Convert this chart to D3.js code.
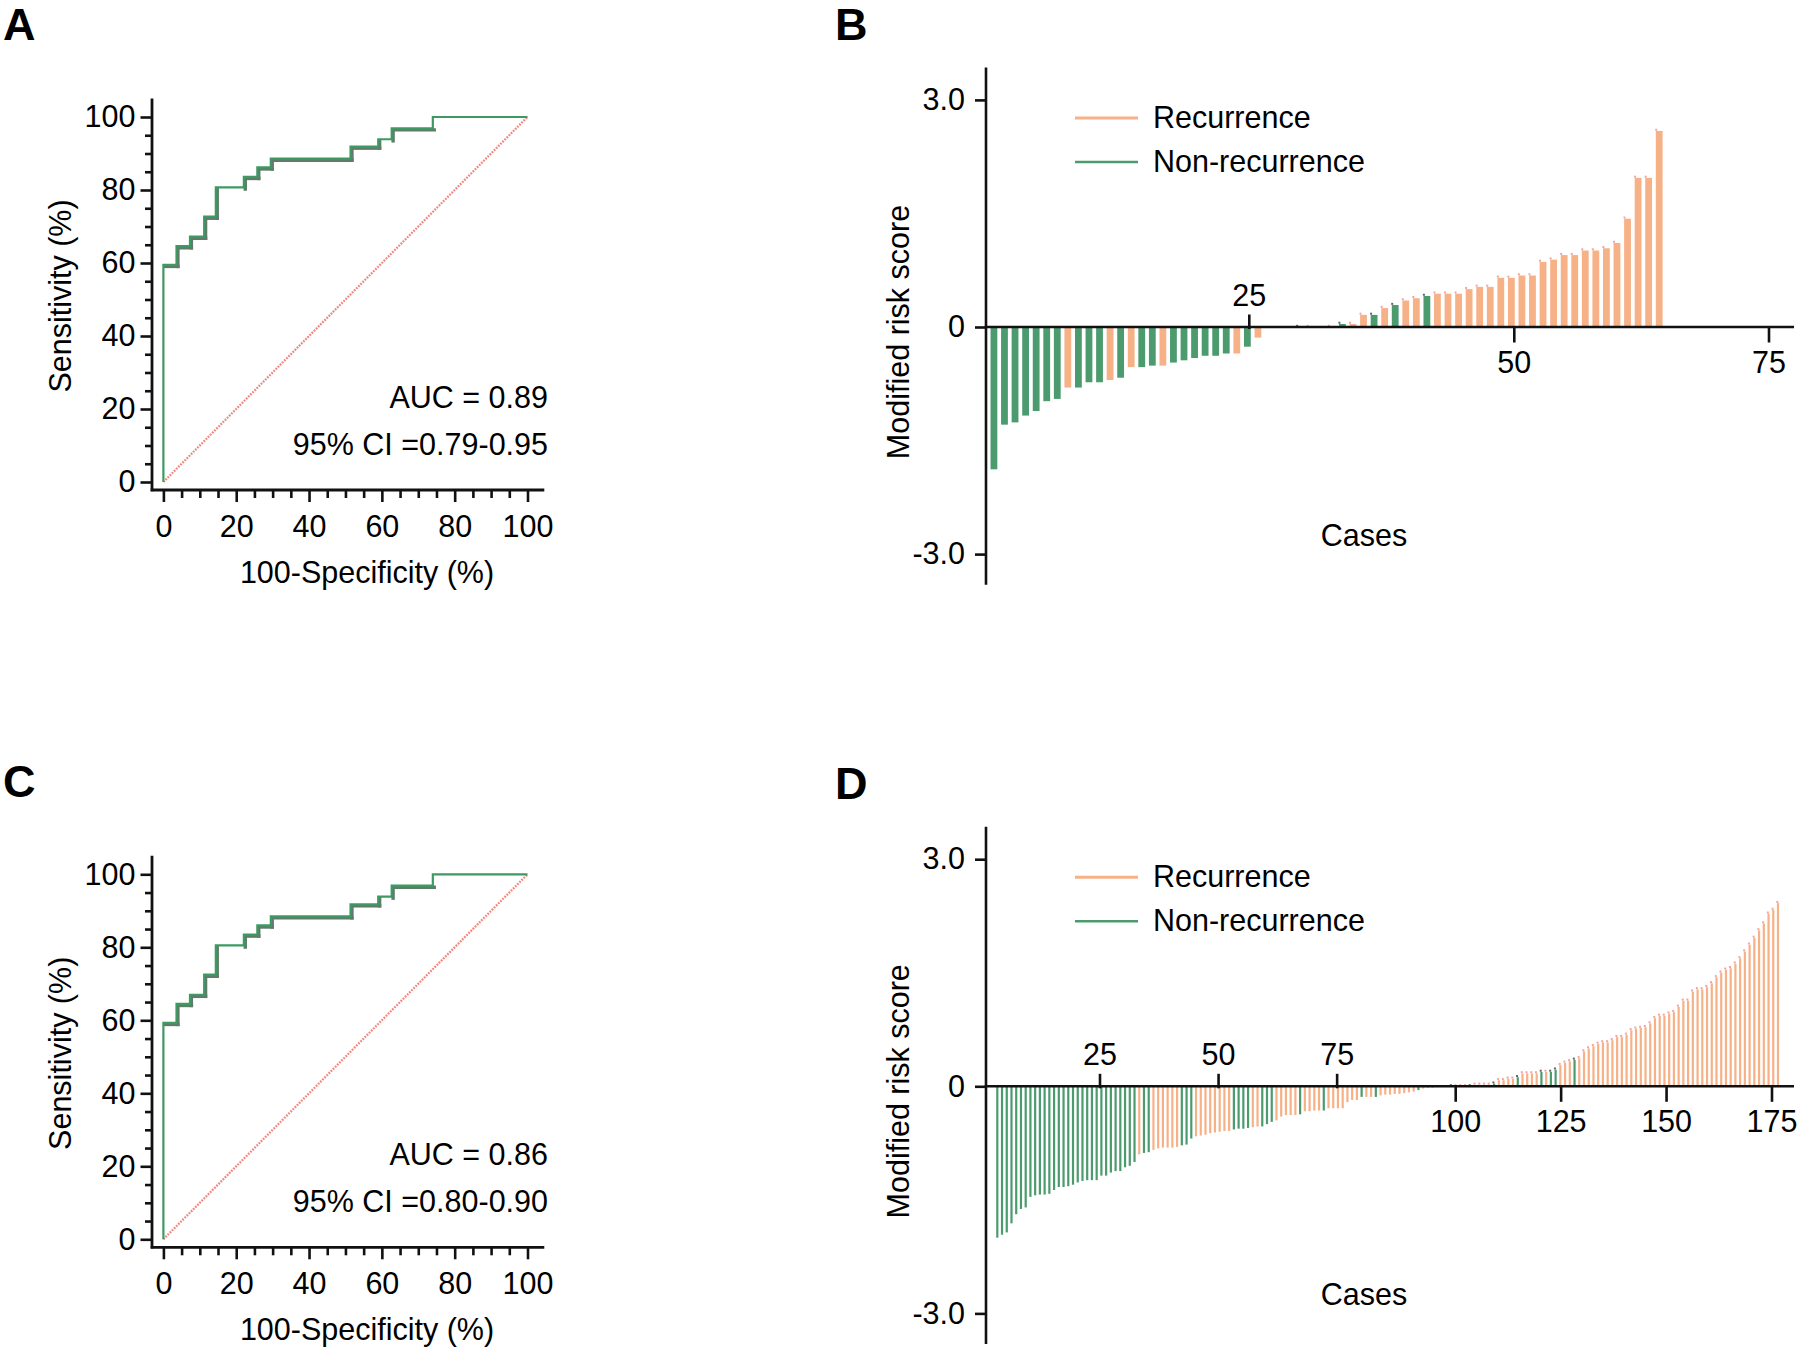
<!DOCTYPE html>
<html><head><meta charset="utf-8">
<script src="https://cdn.jsdelivr.net/npm/d3@7"></script>
<style>
body{margin:0;background:#fff}
svg{display:block;font-family:"Liberation Sans",Arial,Helvetica,sans-serif}
</style>
</head><body>
<svg id="chart" width="1800" height="1356"></svg>
<script>
// ---------------- DATA ----------------
// ROC curves (100-Specificity %, Sensitivity %), step points
const rocFprA = [0, 0, 3.6, 7.3, 11.2, 14.4, 22.1, 25.8, 29.5, 51.4, 59.0, 62.7, 74.0, 100];
const rocTprA = [0, 59.5, 64.6, 67.2, 72.7, 80.7, 83.6, 86.2, 88.6, 91.9, 93.9, 96.9, 100, 100];
const rocFprC = [0, 0, 3.6, 7.3, 11.2, 14.4, 22.1, 25.8, 29.5, 51.4, 59.0, 62.7, 74.0, 100];
const rocTprC = [0, 59.3, 64.5, 67.0, 72.5, 80.5, 83.5, 86.0, 88.5, 91.8, 93.9, 96.9, 100, 100];
const rocMajorTicks = [0, 20, 40, 60, 80, 100];
const rocMinorTicks = [5, 10, 15, 25, 30, 35, 45, 50, 55, 65, 70, 75, 85, 90, 95];
const aucA = "AUC = 0.89", ciA = "95% CI =0.79-0.95";
const aucC = "AUC = 0.86", ciC = "95% CI =0.80-0.90";

// Waterfall B: modified risk score per case (sorted), R = recurrence, N = non-recurrence
const scoresB = [-1.88,-1.29,-1.26,-1.17,-1.11,-0.98,-0.95,-0.80,-0.80,-0.73,-0.73,-0.70,-0.67,-0.53,-0.53,-0.51,-0.51,-0.47,-0.44,-0.41,-0.38,-0.38,-0.35,-0.35,-0.26,-0.14,
  null,null,null,0,0,null,0,
  0.04,0.04,0.16,0.16,0.25,0.29,0.35,0.38,0.41,0.44,0.44,0.44,0.50,0.53,0.53,0.65,0.65,0.68,0.68,0.86,0.89,0.95,0.95,1.01,1.01,1.04,1.11,1.43,1.97,1.97,2.59];
const groupsB = ("NNNNNNN"+"R"+"NNN"+"R"+"N"+"R"+"NN"+"R"+"NNNNNN"+"R"+"N"+"R"+"RRR"+"N"+"RRR"+"N"+"RR"+"N"+"R"+"N"+"RR"+"N"+"RRRRRRRRRRRRRRRRRRRRRR").split("");

// Waterfall D
const scoresD = [-2.00,-1.96,-1.93,-1.81,-1.69,-1.62,-1.60,-1.46,-1.44,-1.43,-1.43,-1.42,-1.37,-1.33,
  -1.33,-1.32,
  -1.30,-1.27,-1.25,-1.24,-1.24,-1.24,-1.18,-1.18,-1.14,-1.12,-1.12,-1.07,-1.05,
  -1.00,-0.90,-0.88,-0.87,
  -0.84,-0.82,-0.81,-0.81,-0.81,-0.80,
  -0.78,-0.77,-0.69,
  -0.66,-0.65,-0.64,-0.62,-0.61,-0.60,-0.59,-0.59,
  -0.57,-0.56,-0.56,-0.55,
  -0.54,-0.53,
  -0.53,-0.50,-0.47,
  -0.45,-0.40,-0.38,-0.38,-0.38,
  -0.37,
  -0.33,-0.33,-0.32,-0.32,
  -0.32,
  -0.29,-0.29,-0.29,-0.29,-0.21,-0.18,-0.18,
  -0.14,-0.14,-0.14,-0.14,
  -0.12,-0.11,-0.11,-0.10,-0.10,-0.09,-0.08,-0.07,
  -0.05,
  -0.03,-0.02,-0.02,-0.01,-0.01,-0.01,
  0,0,0,0,0,
  0.02,0.02,0.02,0.02,
  0.035,
  0.08,0.08,0.10,0.10,
  0.12,
  0.17,0.17,0.17,0.17,
  0.19,0.19,0.19,0.22,
  0.28,0.31,0.33,
  0.35,
  0.37,0.46,0.50,0.53,0.56,0.58,0.58,0.61,0.65,0.65,0.68,0.74,0.76,0.77,0.78,0.83,0.90,0.93,0.93,0.96,0.98,1.05,1.13,1.13,1.25,1.28,1.28,1.31,1.36,1.44,1.50,1.54,1.56,1.62,1.69,1.78,1.87,1.96,2.06,2.15,2.28,2.33,2.42];
const groupsD = ("N".repeat(30)+"R"+"NN"+"RRRRRR"+"NNN"+"RRRRRRRR"+"NNNN"+"RR"+"NNN"+"RRRRR"+"N"+"RRRR"+"N"+"RRRRRRR"+"N"+"RR"+"N"+"RRRRRRRR"+"N"+"RRRRRR"+"N"+"RRR"+"N"+"RRRR"+"N"+"RRRR"+"N"+"RRRR"+"N"+"R"+"NN"+"RRR"+"N"+"R".repeat(43)).split("");

const yTicksRisk = [-3, 0, 3];
const yTickLabelsRisk = ["-3.0", "0", "3.0"];
const caseTicksB = [25, 50, 75];
const caseTicksD = [25, 50, 75, 100, 125, 150, 175];
const legendLabels = ["Recurrence", "Non-recurrence"];

// ---------------- STYLE ----------------
const FONT = 30.5;
const ORANGE = "#f7b187", GREEN = "#4b9b6e";
const ROCGREEN = "#3e9a62", BAND = "#5e7c69", DIAG = "#f2877f";
const INK = "#111";

const svg = d3.select("#chart");
svg.append("rect").attr("width", 1800).attr("height", 1356).attr("fill", "#fff");

function styleAxis(g) {
  g.attr("font-family", null).attr("font-size", FONT);
  g.select(".domain").remove();
  g.selectAll("line").attr("stroke", INK).attr("stroke-width", 2.6);
  g.selectAll("text").attr("fill", "#000");
}

// ---------------- ROC PANEL ----------------
function rocPanel(offY, fpr, tpr, auc, ci, letter) {
  const g = svg.append("g").attr("transform", `translate(0,${offY})`);
  const x = d3.scaleLinear().domain([0, 100]).range([163.4, 527.5]);
  const y = d3.scaleLinear().domain([0, 100]).range([482, 117]);
  const axX = 152, axY = 490;

  g.append("text").attr("x", 3).attr("y", 40).attr("font-size", 45).attr("font-weight", "bold").text(letter);

  // axis lines
  g.append("line").attr("x1", axX).attr("x2", axX).attr("y1", 98.5).attr("y2", axY + 1.3).attr("stroke", INK).attr("stroke-width", 2.8);
  g.append("line").attr("x1", axX - 1.3).attr("x2", 544.3).attr("y1", axY).attr("y2", axY).attr("stroke", INK).attr("stroke-width", 2.8);

  const yMaj = g.append("g").attr("transform", `translate(${axX},0)`)
    .call(d3.axisLeft(y).tickValues(rocMajorTicks).tickSize(11.5).tickPadding(5).tickFormat(d3.format("d")));
  styleAxis(yMaj);
  const yMin = g.append("g").attr("transform", `translate(${axX},0)`)
    .call(d3.axisLeft(y).tickValues(rocMinorTicks).tickSize(7).tickFormat(""));
  styleAxis(yMin);
  const xMaj = g.append("g").attr("transform", `translate(0,${axY})`)
    .call(d3.axisBottom(x).tickValues(rocMajorTicks).tickSize(12).tickPadding(13).tickFormat(d3.format("d")));
  styleAxis(xMaj);
  const xMin = g.append("g").attr("transform", `translate(0,${axY})`)
    .call(d3.axisBottom(x).tickValues(rocMinorTicks).tickSize(8).tickFormat(""));
  styleAxis(xMin);

  // diagonal reference
  g.append("line").attr("x1", x(0)).attr("y1", y(0)).attr("x2", x(100)).attr("y2", y(100))
    .attr("stroke", DIAG).attr("stroke-width", 2.3).attr("stroke-dasharray", "1.8,1.2");

  // step segments
  const pts = fpr.map((f, i) => [f, tpr[i]]);
  const segs = [];
  for (let i = 0; i < pts.length - 1; i++) {
    const [x0, y0] = pts[i], [x1, y1] = pts[i + 1];
    if (x1 !== x0) segs.push({ a: [x0, y0], b: [x1, y0], kind: "h", level: y0 });
    if (y1 !== y0) segs.push({ a: [x1, y0], b: [x1, y1], kind: "v", level: x1 });
  }
  const thinLevels = [tpr[5], tpr[10]];
  const bandSegs = segs.filter(s => !(s.kind === "v" && s.level === 0) && !(s.kind === "h" && s.level === 100)
    && !(s.kind === "h" && thinLevels.includes(s.level)) && !(s.kind === "v" && s.level === fpr[12]));
  g.selectAll(".band").data(bandSegs).join("line")
    .attr("x1", d => x(d.a[0]) + 1.4).attr("y1", d => y(d.a[1]) + 1.6)
    .attr("x2", d => x(d.b[0]) + 1.4).attr("y2", d => y(d.b[1]) + 1.6)
    .attr("stroke", BAND).attr("stroke-width", 3.4).attr("stroke-linecap", "square");

  const line = d3.line().x(d => x(d[0])).y(d => y(d[1])).curve(d3.curveStepAfter);
  g.append("path").attr("d", line(pts)).attr("fill", "none").attr("stroke", ROCGREEN).attr("stroke-width", 2.2);

  g.append("text").attr("x", 548).attr("y", 408).attr("text-anchor", "end").attr("font-size", FONT).text(auc);
  g.append("text").attr("x", 548).attr("y", 454.5).attr("text-anchor", "end").attr("font-size", FONT).text(ci);

  g.append("text").attr("x", 367).attr("y", 582.5).attr("text-anchor", "middle").attr("font-size", FONT).text("100-Specificity (%)");
  g.append("text").attr("transform", "translate(71,296) rotate(-90)").attr("text-anchor", "middle").attr("font-size", FONT).text("Sensitivity (%)");
}

// ---------------- WATERFALL PANEL ----------------
function waterfall(offY, vals, groups, barX, barW, tickX, ticks, upTicks, letter) {
  const g = svg.append("g").attr("transform", `translate(0,${offY})`);
  const y = d3.scaleLinear().domain([-3, 3]).range([554.1, 99.9]);
  const axX = 986, y0 = y(0);

  g.append("text").attr("x", 835).attr("y", 40).attr("font-size", 45).attr("font-weight", "bold").text(letter);

  g.append("line").attr("x1", axX).attr("x2", axX).attr("y1", 67.5).attr("y2", 584.7).attr("stroke", INK).attr("stroke-width", 2.6);

  const ya = g.append("g").attr("transform", `translate(${axX},0)`)
    .call(d3.axisLeft(y).tickValues(yTicksRisk).tickSize(11).tickPadding(10)
      .tickFormat(d => yTickLabelsRisk[yTicksRisk.indexOf(d)]));
  styleAxis(ya);

  // bars
  const data = vals.map((v, i) => ({ i: i + 1, v, grp: groups[i] })).filter(d => d.v !== null);
  const color = d => d.grp === "R" ? ORANGE : GREEN;
  g.selectAll(".bar").data(data).join("rect")
    .attr("x", d => barX(d.i) - barW / 2)
    .attr("y", d => y(Math.max(0, d.v)))
    .attr("width", barW)
    .attr("height", d => Math.abs(y(d.v) - y0))
    .attr("fill", color);
  // small caps at bar tops
  g.selectAll(".cap").data(data.filter(d => d.v >= 0)).join("rect")
    .attr("x", d => barX(d.i) - barW / 2 - 0.6)
    .attr("y", d => y(d.v) - 2.2)
    .attr("width", 2).attr("height", 2)
    .attr("fill", d => d.grp === "R" ? "#f4a3a0" : "#5a6a62");

  // x axis (zero line)
  g.append("line").attr("x1", axX - 1.3).attr("x2", 1794).attr("y1", y0).attr("y2", y0).attr("stroke", INK).attr("stroke-width", 2.6);
  const tg = g.selectAll(".ct").data(ticks).join("g").attr("transform", d => `translate(${tickX(d)},${y0})`);
  tg.append("line")
    .attr("y1", d => upTicks.includes(d) ? -12.5 : 0)
    .attr("y2", d => upTicks.includes(d) ? 2 : 15.5)
    .attr("stroke", INK).attr("stroke-width", 2.6);
  tg.append("text").attr("text-anchor", "middle").attr("font-size", FONT)
    .attr("y", d => upTicks.includes(d) ? -21.5 : 45.5).text(d => d);

  g.append("text").attr("x", 1364).attr("y", 546).attr("text-anchor", "middle").attr("font-size", FONT).text("Cases");
  g.append("text").attr("transform", "translate(909,332) rotate(-90)").attr("text-anchor", "middle").attr("font-size", FONT).text("Modified risk score");

  // legend
  const leg = g.selectAll(".leg").data(legendLabels).join("g").attr("transform", (d, i) => `translate(0,${i === 0 ? 118 : 162})`);
  leg.append("line").attr("x1", 1075).attr("x2", 1138).attr("y1", 0).attr("y2", 0)
    .attr("stroke", (d, i) => i === 0 ? ORANGE : GREEN).attr("stroke-width", (d, i) => i === 0 ? 3 : 2.4);
  leg.append("text").attr("x", 1153).attr("y", 9.5).attr("font-size", FONT).text(d => d);
}

rocPanel(0, rocFprA, rocTprA, aucA, ciA, "A");
rocPanel(757.3, rocFprC, rocTprC, aucC, ciC, "C");

const xBarB = d3.scaleLinear().domain([0, 50]).range([986, 1514]);
const xTickB = d3.scaleLinear().domain([25, 50, 75]).range([1249.3, 1514.3, 1769]);
waterfall(0, scoresB, groupsB, i => xBarB(i - 0.25), 6.8, xTickB, caseTicksB, [25], "B");

const xBarD = d3.scaleLinear().domain([1, scoresD.length]).range([997.3, 1778]);
const xTickD = d3.scaleLinear().domain([25, 100, 175]).range([1100, 1455.7, 1772]);
waterfall(759.3, scoresD, groupsD, i => xBarD(i), 2.2, xTickD, caseTicksD, [25, 50, 75], "D");
</script>
</body></html>
